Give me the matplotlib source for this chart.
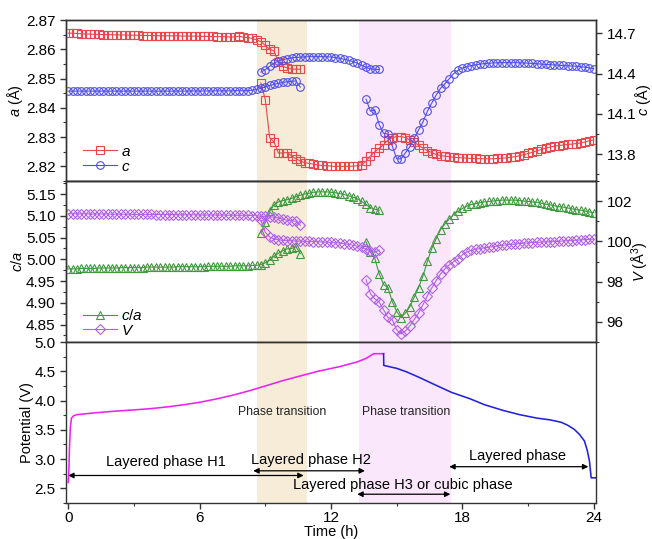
import numpy as np
import matplotlib
matplotlib.use("Agg")
import matplotlib.pyplot as plt
from matplotlib.ticker import MultipleLocator, FormatStrFormatter
from matplotlib.lines import Line2D

plt.rcParams['font.family'] = ['Liberation Sans', 'DejaVu Sans']
plt.rcParams['mathtext.fontset'] = 'custom'
plt.rcParams['mathtext.rm'] = 'Liberation Sans'
plt.rcParams['mathtext.it'] = 'Liberation Sans:italic'

# ---------------- data ----------------
# sample times of the three structural branches (h)
t_H1 = np.round(np.arange(0.0, 10.61, 0.2), 2)      # 54 points
t_H2 = np.round(np.arange(8.8, 14.21, 0.2), 2)      # 28 points
t_H2a = np.round(np.arange(8.8, 24.01, 0.2), 2)     # 77 points (a, lower branch)
t_H3 = np.round(np.arange(13.6, 24.01, 0.2), 2)     # 53 points

a_H1 = [2.8655, 2.8655, 2.8654, 2.8653, 2.8652, 2.8652,
        2.8651, 2.8651, 2.8650, 2.8650, 2.8650, 2.8649, 2.8649, 2.8649, 2.8648, 2.8648,
        2.8648, 2.8647, 2.8647, 2.8647, 2.8647, 2.8646, 2.8646, 2.8646, 2.8646, 2.8646,
        2.8645, 2.8645, 2.8645, 2.8645, 2.8644, 2.8644, 2.8644, 2.8644, 2.8643, 2.8643,
        2.8643, 2.8642, 2.8642, 2.8645, 2.8641,
        2.8640, 2.8637, 2.8632, 2.8626, 2.8613,
        2.8600, 2.8594, 2.8556, 2.8542, 2.8536,
        2.8532, 2.8532, 2.8532]
a_H2 = [2.8485, 2.8428, 2.8298, 2.8283, 2.8245, 2.8246, 2.8247, 2.8236, 2.8226, 2.8218,
        2.8213, 2.8210, 2.8207, 2.8205, 2.8203, 2.8202, 2.8201, 2.8200, 2.8200, 2.8200,
        2.8200, 2.8201, 2.8202, 2.8205, 2.8218, 2.8236, 2.8250, 2.8262, 2.8274, 2.8290,
        2.8298, 2.8302, 2.8302, 2.8298, 2.8290, 2.8282, 2.8272, 2.8262, 2.8254, 2.8247,
        2.8241, 2.8237, 2.8235, 2.8233, 2.8231, 2.8230, 2.8229, 2.8228, 2.8227, 2.8227,
        2.8226, 2.8226, 2.8226, 2.8226, 2.8227, 2.8228, 2.8229, 2.8231, 2.8233, 2.8236,
        2.8240, 2.8244, 2.8248, 2.8253, 2.8258, 2.8262, 2.8266, 2.8269, 2.8271, 2.8273,
        2.8275, 2.8276, 2.8278, 2.8280, 2.8283, 2.8288, 2.8290]

c_H1 = [14.270, 14.270, 14.270, 14.270, 14.270, 14.270, 14.270, 14.270, 14.270, 14.270,
        14.270, 14.270, 14.270, 14.270, 14.270, 14.270, 14.270, 14.270, 14.270, 14.270,
        14.270, 14.270, 14.270, 14.270, 14.270, 14.270, 14.270, 14.270, 14.271, 14.271,
        14.271, 14.271, 14.271, 14.271, 14.272, 14.272, 14.272, 14.272, 14.273, 14.273,
        14.273,
        14.274, 14.277, 14.282, 14.290, 14.302, 14.312, 14.320, 14.328, 14.335, 14.340,
        14.343, 14.346, 14.300]
c_H2 = [14.412, 14.430, 14.455, 14.478, 14.495, 14.505, 14.512, 14.518, 14.521, 14.523,
        14.525, 14.526, 14.527, 14.527, 14.527, 14.526, 14.524, 14.520, 14.515, 14.508,
        14.500, 14.490, 14.478, 14.462, 14.448, 14.436, 14.432, 14.432]
c_H3 = [14.21, 14.12, 14.13, 14.02, 13.955, 13.95, 13.86, 13.765, 13.765, 13.81,
        13.855, 13.92, 13.98, 14.04, 14.12, 14.18, 14.24, 14.29, 14.325, 14.362,
        14.40, 14.425, 14.442, 14.452, 14.460, 14.466, 14.471, 14.475, 14.478, 14.480,
        14.481, 14.482, 14.482, 14.482, 14.482, 14.481, 14.480, 14.478, 14.476, 14.474,
        14.471, 14.469, 14.467, 14.465, 14.463, 14.461, 14.459, 14.457, 14.455, 14.452,
        14.448, 14.443, 14.438]

ca_H1 = [4.978, 4.978, 4.978, 4.979, 4.979, 4.979, 4.979, 4.980, 4.980, 4.980,
         4.980, 4.980, 4.981, 4.981, 4.981, 4.981, 4.981, 4.981, 4.982, 4.982,
         4.982, 4.982, 4.982, 4.982, 4.982, 4.983, 4.983, 4.983, 4.983, 4.983,
         4.983, 4.983, 4.984, 4.984, 4.984, 4.984, 4.984, 4.984, 4.985, 4.985,
         4.985, 4.985, 4.986, 4.986, 4.988, 4.992, 4.998, 5.007, 5.014, 5.020,
         5.024, 5.025, 5.029, 5.013]
ca_H2 = [5.061, 5.085, 5.110, 5.125, 5.132, 5.135, 5.137, 5.140, 5.144, 5.147,
         5.150, 5.152, 5.154, 5.155, 5.155, 5.155, 5.154, 5.153, 5.151, 5.149,
         5.146, 5.143, 5.139, 5.133, 5.126, 5.119, 5.115, 5.113]
ca_H3 = [5.040, 5.017, 5.002, 4.967, 4.942, 4.935, 4.903, 4.880, 4.866, 4.877,
         4.891, 4.913, 4.935, 4.962, 4.995, 5.025, 5.047, 5.068, 5.081, 5.093,
         5.103, 5.110, 5.117, 5.122, 5.126, 5.128, 5.130, 5.132, 5.133, 5.134,
         5.135, 5.136, 5.136, 5.136, 5.136, 5.135, 5.134, 5.133, 5.132, 5.131,
         5.129, 5.127, 5.125, 5.123, 5.121, 5.120, 5.118, 5.116, 5.114, 5.113,
         5.111, 5.109, 5.107]

V_H1 = [101.37, 101.37, 101.37, 101.37, 101.37, 101.36, 101.36, 101.36, 101.36, 101.36,
        101.35, 101.35, 101.35, 101.35, 101.35, 101.34, 101.34, 101.34, 101.34, 101.34,
        101.33, 101.33, 101.33, 101.33, 101.33, 101.32, 101.32, 101.32, 101.32, 101.32,
        101.31, 101.31, 101.31, 101.31, 101.31, 101.31, 101.30, 101.30, 101.30, 101.30,
        101.30, 101.29, 101.28, 101.27, 101.25, 101.24, 101.22, 101.20, 101.16, 101.10,
        101.05, 101.02, 101.00, 100.80]
V_H2 = [101.05, 100.45, 100.22, 100.12, 100.08, 100.05, 100.04, 100.03, 100.02, 100.01,
        100.00, 100.00, 99.99, 99.98, 99.97, 99.96, 99.95, 99.93, 99.91, 99.88,
        99.85, 99.81, 99.76, 99.70, 99.62, 99.53, 99.46, 99.57]
V_H3 = [98.10, 97.40, 97.15, 96.98, 96.60, 96.22, 96.10, 95.60, 95.40, 95.55,
        95.80, 96.12, 96.45, 96.85, 97.30, 97.68, 98.05, 98.38, 98.63, 98.83,
        98.99, 99.14, 99.33, 99.47, 99.55, 99.60, 99.64, 99.68, 99.71, 99.74,
        99.77, 99.80, 99.83, 99.85, 99.87, 99.89, 99.91, 99.92, 99.94, 99.95,
        99.96, 99.97, 99.98, 99.99, 100.00, 100.02, 100.03, 100.04, 100.06, 100.07,
        100.09, 100.10, 100.11]

# potential curve: charge (magenta) and discharge (blue)
t_charge = [0.0, 0.03, 0.06, 0.10, 0.15, 0.25, 0.40, 0.70, 1.2, 2.2, 3.0, 3.7, 4.5, 5.3,
            6.0, 6.8, 7.5, 8.3, 9.1, 9.8, 10.6, 11.4, 12.4, 13.2, 13.6, 13.95, 14.4]
P_charge = [2.60, 2.80, 3.20, 3.55, 3.70, 3.74, 3.76, 3.77, 3.79, 3.82, 3.84, 3.86, 3.89, 3.93,
            3.97, 4.03, 4.09, 4.17, 4.26, 4.34, 4.42, 4.50, 4.58, 4.66, 4.72, 4.80, 4.80]
t_dis = [14.4, 14.41, 15.0, 15.45, 16.0, 16.8, 17.5, 18.35, 19.0, 19.87, 20.6, 21.4, 22.0,
         22.5, 22.8, 23.1, 23.35, 23.57, 23.7, 23.8, 23.88, 24.1]
P_dis = [4.80, 4.60, 4.55, 4.49, 4.40, 4.26, 4.14, 4.03, 3.93, 3.83, 3.76, 3.70, 3.67,
         3.63, 3.58, 3.51, 3.42, 3.31, 3.15, 2.97, 2.68, 2.68]

spans = [(8.6, 10.9, '#f6ecd8'), (13.3, 17.5, '#fbe7fb')]

phase_arrows = [  # (start, end, potential level)
    (0.0, 10.75, 2.72),
    (8.45, 13.55, 2.80),
    (13.2, 17.45, 2.40),
    (17.4, 23.75, 2.87),
]
phase_texts = [
    ('Layered phase H1', 4.45, 2.95),
    ('Layered phase H2', 11.1, 2.99),
    ('Layered phase H3 or cubic phase', 15.3, 2.56),
    ('Layered phase', 20.5, 3.06),
]
transition_texts = [('Phase transition', 9.77, 3.81), ('Phase transition', 15.43, 3.81)]

# ---------------- style ----------------
RED = '#e8474c'
BLUE = '#4f4fe8'
GREEN = '#3f9a3f'
PURPLE = '#b060e6'
MAG = '#ee22ee'
DBLUE = '#2222dd'
SPINE = '#333333'
TICK_FS = 11
LAB_FS = 10.5

fig = plt.figure(figsize=(6.52, 5.39), dpi=100)
L, W = 66 / 652, 530 / 652
H = 161 / 539
ax1 = fig.add_axes([L, 1 - 181 / 539, W, H])
ax2 = fig.add_axes([L, 1 - 342 / 539, W, H])
ax3 = fig.add_axes([L, 1 - 503 / 539, W, H])
ax1r = ax1.twinx()
ax2r = ax2.twinx()

for ax in (ax1, ax2, ax3):
    ax.set_xlim(-0.1, 24.1)
    for s0, s1, col in spans:
        ax.axvspan(s0, s1, color=col, lw=0, zorder=0)
    ax.xaxis.set_major_locator(MultipleLocator(6))
    ax.xaxis.set_minor_locator(MultipleLocator(3))

for ax in (ax1, ax2, ax3, ax1r, ax2r):
    for sp in ax.spines.values():
        sp.set_color(SPINE)
        sp.set_linewidth(1.0)
    ax.tick_params(which='both', direction='out', colors=SPINE, labelcolor='black',
                   labelsize=TICK_FS, top=False)
    ax.tick_params(which='major', length=4, width=1)
    ax.tick_params(which='minor', length=2.5, width=0.8)

ax1.tick_params(axis='x', labelbottom=False)
ax2.tick_params(axis='x', labelbottom=False)
ax1r.tick_params(axis='x', which='both', bottom=False, labelbottom=False)
ax2r.tick_params(axis='x', which='both', bottom=False, labelbottom=False)

mk = dict(mfc='none', mew=0.8, ms=5.5, lw=0.8)
mkD = dict(mk, ms=5)

# top panel
ax1.plot(t_H1, a_H1, marker='s', color=RED, **mk, zorder=3)
ax1.plot(t_H2a, a_H2, marker='s', color=RED, **mk, zorder=3)
ax1r.plot(t_H1, c_H1, marker='o', color=BLUE, **mk)
ax1r.plot(t_H2, c_H2, marker='o', color=BLUE, **mk)
ax1r.plot(t_H3, c_H3, marker='o', color=BLUE, **mk)
ax1.set_ylim(2.815, 2.87)
ax1.yaxis.set_major_locator(MultipleLocator(0.01))
ax1.yaxis.set_minor_locator(MultipleLocator(0.005))
ax1.yaxis.set_major_formatter(FormatStrFormatter('%.2f'))
ax1r.set_ylim(13.6, 14.8)
ax1r.set_yticks([13.8, 14.1, 14.4, 14.7])
ax1r.yaxis.set_minor_locator(MultipleLocator(0.15))
ax1r.yaxis.set_major_formatter(FormatStrFormatter('%.1f'))
ax1.set_ylabel('$a$ (Å)', fontsize=LAB_FS)
ax1r.set_ylabel('$c$ (Å)', fontsize=LAB_FS)
ax1.yaxis.set_label_coords(-0.078, 0.5)
ax1r.yaxis.set_label_coords(1.070, 0.5)

# middle panel
ax2.plot(t_H1, ca_H1, marker='^', color=GREEN, **mk, zorder=3)
ax2.plot(t_H2, ca_H2, marker='^', color=GREEN, **mk, zorder=3)
ax2.plot(t_H3, ca_H3, marker='^', color=GREEN, **mk, zorder=3)
ax2r.plot(t_H1, V_H1, marker='D', color=PURPLE, **mkD)
ax2r.plot(t_H2, V_H2, marker='D', color=PURPLE, **mkD)
ax2r.plot(t_H3, V_H3, marker='D', color=PURPLE, **mkD)
ax2.set_ylim(4.81, 5.18)
ax2.yaxis.set_major_locator(MultipleLocator(0.05))
ax2.yaxis.set_minor_locator(MultipleLocator(0.025))
ax2.yaxis.set_major_formatter(FormatStrFormatter('%.2f'))
ax2r.set_ylim(95, 103)
ax2r.set_yticks([96, 98, 100, 102])
ax2r.yaxis.set_minor_locator(MultipleLocator(1))
ax2.set_ylabel('$c/a$', fontsize=LAB_FS)
ax2r.set_ylabel('$V$ (Å$^{3}$)', fontsize=LAB_FS)
ax2.yaxis.set_label_coords(-0.078, 0.5)
ax2r.yaxis.set_label_coords(1.064, 0.5)

# bottom panel
ax3.plot(t_charge, P_charge, color=MAG, lw=1.15, zorder=3)
ax3.plot(t_dis, P_dis, color=DBLUE, lw=1.15, zorder=3)
ax3.set_ylim(2.25, 5.0)
ax3.yaxis.set_major_locator(MultipleLocator(0.5))
ax3.yaxis.set_minor_locator(MultipleLocator(0.25))
ax3.yaxis.set_major_formatter(FormatStrFormatter('%.1f'))
ax3.set_ylabel('Potential (V)', fontsize=LAB_FS)
ax3.yaxis.set_label_coords(-0.06, 0.5)
ax3.set_xlabel('Time (h)', fontsize=LAB_FS, labelpad=0)
ax3.tick_params(axis='x', pad=2)

for s0, s1, lev in phase_arrows:
    ax3.annotate('', xy=(s1, lev), xytext=(s0, lev),
                 arrowprops=dict(arrowstyle='<|-|>', color='black', lw=0.9,
                                 shrinkA=0, shrinkB=0, mutation_scale=8), zorder=4)
for txt, tx, ty in phase_texts:
    ax3.text(tx, ty, txt, ha='center', va='center', fontsize=10.5, zorder=5)
for txt, tx, ty in transition_texts:
    ax3.text(tx, ty, txt, ha='center', va='center', fontsize=8.8, color='#222222', zorder=5)

# legends
leg_kw = dict(loc='lower left', frameon=False, fontsize=11,
              handlelength=2.2, labelspacing=0.05, handletextpad=0.3, borderaxespad=0.3)
h_a = Line2D([], [], marker='s', color=RED, **mk)
h_c = Line2D([], [], marker='o', color=BLUE, **mk)
ax1r.legend([h_a, h_c], ['$a$', '$c$'], bbox_to_anchor=(0.012, -0.02), **leg_kw)
h_ca = Line2D([], [], marker='^', color=GREEN, **mk)
h_V = Line2D([], [], marker='D', color=PURPLE, **mkD)
ax2r.legend([h_ca, h_V], ['$c/a$', '$V$'], bbox_to_anchor=(0.012, -0.04), **leg_kw)

fig.savefig('out.png', dpi=100)
